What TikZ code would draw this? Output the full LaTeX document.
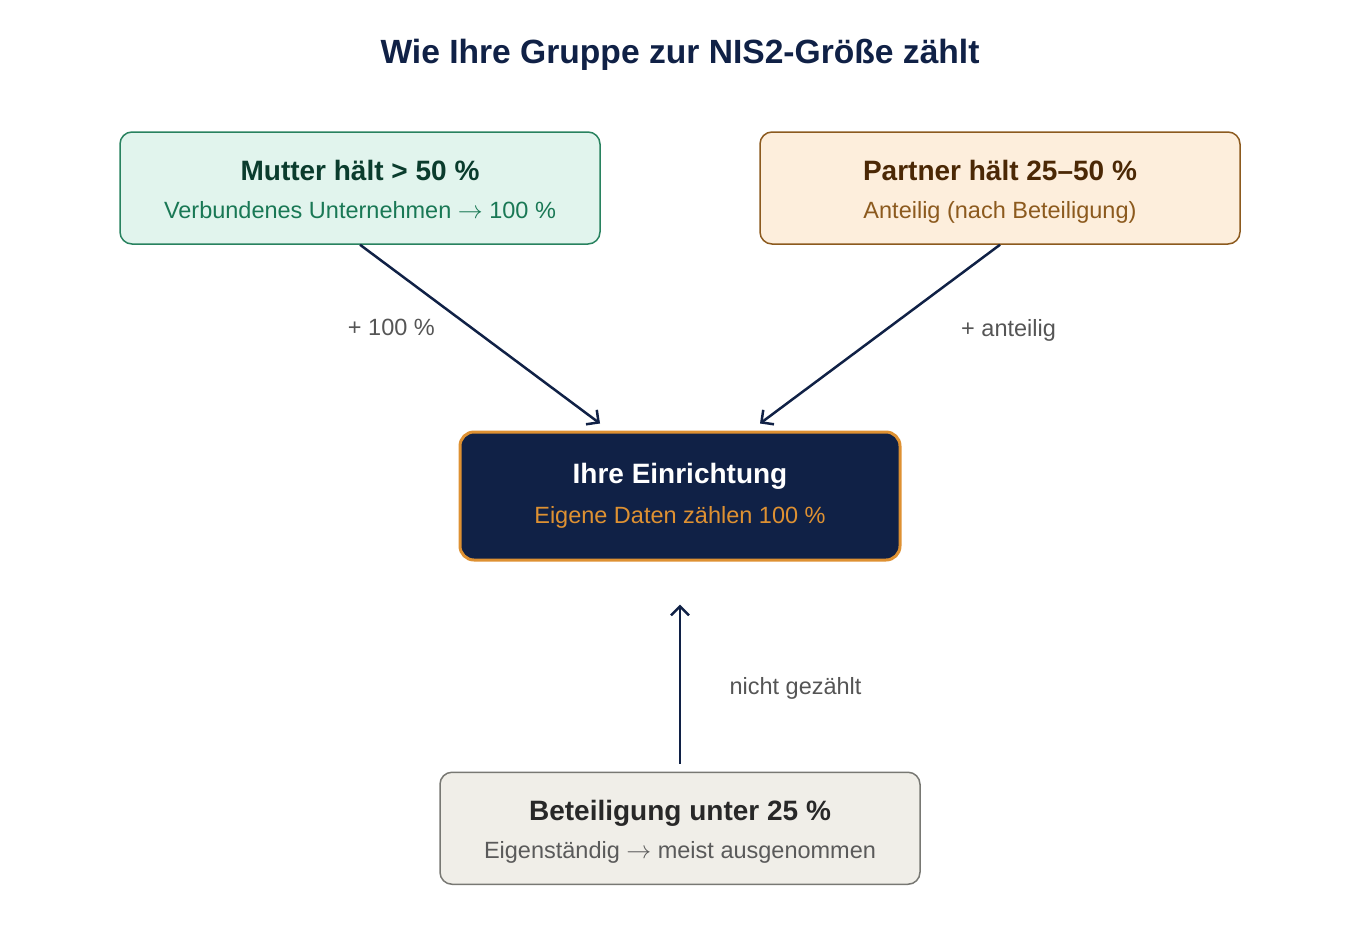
\documentclass[tikz,border=0pt]{standalone}
\usepackage{fontspec}
\setmainfont{Liberation Sans}
\usetikzlibrary{arrows.meta, positioning}
\definecolor{navy}{RGB}{16, 33, 70}
\definecolor{mintfill}{RGB}{225, 244, 237}
\definecolor{mintline}{RGB}{40, 130, 95}
\definecolor{minthead}{RGB}{10, 60, 45}
\definecolor{mintsub}{RGB}{25, 120, 85}
\definecolor{sandfill}{RGB}{253, 238, 220}
\definecolor{sandline}{RGB}{140, 90, 30}
\definecolor{sandhead}{RGB}{75, 40, 5}
\definecolor{sandsub}{RGB}{140, 90, 30}
\definecolor{glow}{RGB}{222, 145, 50}
\definecolor{stonefill}{RGB}{240, 238, 232}
\definecolor{stoneline}{RGB}{120, 120, 115}
\definecolor{stonehead}{RGB}{40, 40, 40}
\definecolor{stonesub}{RGB}{90, 90, 90}
\definecolor{labelgrey}{RGB}{85, 85, 85}

\newcommand{\boxsubfont}{\fontsize{23.5}{38}\selectfont}
\newcommand{\boxhead}[1]{{\bfseries\fontsize{28}{38}\selectfont\rule{0pt}{27pt}#1}}

\tikzset{
    groupbox/.style={
        rectangle,
        rounded corners=12pt,
        minimum width=480pt,
        minimum height=112pt,
        inner sep=0pt,
        line width=1.5pt,
        align=center,
        font=\boxsubfont
    },
    flow/.style={
        draw=navy,
        line width=2.5pt,
        -{Straight Barb[length=9pt, width=18pt]}
    },
    edgelbl/.style={
        text=labelgrey,
        font=\boxsubfont
    }
}

\begin{document}
\begin{tikzpicture}[x=1pt, y=-1pt]
    \useasboundingbox (0,0) rectangle (1360,940);

    \node[font=\bfseries\fontsize{33.6}{40}\selectfont, text=navy] (titel) at (680,55) {Wie Ihre Gruppe zur NIS2-Größe zählt};

    \node[
        groupbox,
        fill=mintfill,
        draw=mintline,
        text=mintsub
    ] (mutter) at (360,188) {\textcolor{minthead}{\boxhead{Mutter hält > 50 \%}}\\ Verbundenes Unternehmen $\rightarrow$ 100 \%\vphantom{g}};

    \node[
        groupbox,
        fill=sandfill,
        draw=sandline,
        text=sandsub
    ] (partner) at (1000,188) {\textcolor{sandhead}{\boxhead{Partner hält 25--50 \%}}\\ Anteilig (nach Beteiligung)};

    \node[
        groupbox,
        rounded corners=14pt,
        minimum width=440pt,
        minimum height=128pt,
        fill=navy,
        draw=glow,
        line width=3pt,
        text=glow
    ] (einr) at (680,496) {\textcolor{white}{\boxhead{Ihre Einrichtung}}\\[2pt] Eigene Daten zählen 100 \%\rule[-12pt]{0pt}{12pt}};

    \node[
        groupbox,
        fill=stonefill,
        draw=stoneline,
        text=stonesub,
        below=210pt of einr
    ] (basis) {\textcolor{stonehead}{\boxhead{Beteiligung unter 25 \%}}\\ Eigenständig $\rightarrow$ meist ausgenommen};

    % Zurechnung zur Einrichtung
    \draw[flow] (mutter.south) -- ([xshift=-80pt, yshift=7pt]einr.north)
        node[edgelbl, pos=0.46, xshift=-79pt] {+ 100 \%};
    \draw[flow] (partner.south) -- ([xshift=80pt, yshift=7pt]einr.north)
        node[edgelbl, pos=0.46, xshift=119pt, yshift=-3pt] {+ anteilig};
    \draw[flow] ([yshift=8pt]basis.north) -- ([yshift=-43pt]einr.south)
        node[edgelbl, midway, anchor=west, xshift=45pt, yshift=-4.5pt] {nicht gezählt};
\end{tikzpicture}
\end{document}
